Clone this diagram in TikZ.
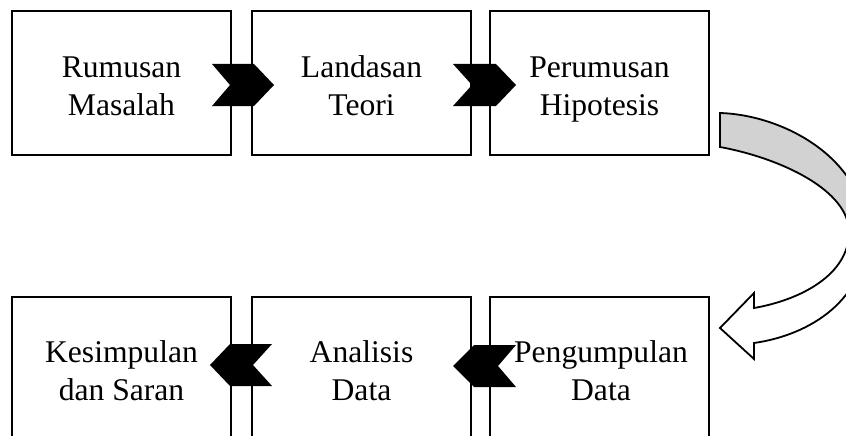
\documentclass[tikz,border=0pt]{standalone}
\usepackage{fontspec}
\setmainfont{Liberation Serif}
\begin{document}
\begin{tikzpicture}[x=1pt,y=-1pt,
  box/.style={draw=black, line width=2pt, minimum width=219pt, minimum height=144pt, inner sep=0pt},
  lowbox/.style={box, minimum height=153pt},
  lbl/.style={font=\fontsize{31.6}{38}\selectfont, align=center, inner sep=0pt, anchor=north},
  chev/.style={fill=black},
  ribbon/.style={draw=black, line width=1.8pt, line join=miter}]
\path[use as bounding box] (0,0) rectangle (846,436);
\clip (0,0) rectangle (846,436);
\fill[white] (0,0) rectangle (846,436);
% boxes
\node[box] (b1) at (121.5,83) {};
\node[box] (b2) at (361.5,83) {};
\node[box] (b3) at (599.5,83) {};
\node[lowbox] (b4) at (121.5,373.5) {};
\node[lowbox] (b5) at (361.5,373.5) {};
\node[lowbox] (b6) at (599.5,373.5) {};
% labels
\node[lbl] (t1) at (121.5,50.4) {\strut Rumusan\\\strut Masalah};
\node[lbl] (t2) at (361.5,50.4) {\strut Landasan\\\strut Teori};
\node[lbl] (t3) at (599.5,50.4) {\strut Perumusan\\\strut Hipotesis};
\node[lbl] (t4) at (121.5,335.4) {\strut Kesimpulan\\\strut dan Saran};
\node[lbl] (t5) at (361.5,335.4) {\strut Analisis\\\strut Data};
\node[lbl] (t6) at (601,335.4) {\strut Pengumpulan\\\strut Data};
% chevrons
\fill[chev] (212,64) -- (254,64) -- (274,85) -- (254,106) -- (212,106) -- (230,85) -- cycle;
\fill[chev] (453,64) -- (496,64) -- (516,85) -- (496,106) -- (453,106) -- (472,85) -- cycle;
\fill[chev] (210,365) -- (230,344) -- (272,344) -- (253,365) -- (272,386) -- (230,386) -- cycle;
\fill[chev] (453,366) -- (474,345) -- (516,345) -- (498,366) -- (516,387) -- (474,387) -- cycle;
% curved arrow
\filldraw[ribbon, fill=white] (849,232) .. controls (849,275) and (800,300) .. (754,308)
  -- (754,293) -- (720,328) -- (754,359) -- (754,343)
  .. controls (810,335) and (866,300) .. (866,235) -- cycle;
\filldraw[ribbon, fill=gray!35] (720,113) .. controls (785,115) and (866,160) .. (866,235)
  -- (849,232) .. controls (849,190) and (780,158) .. (720,147) -- cycle;
\end{tikzpicture}
\end{document}
